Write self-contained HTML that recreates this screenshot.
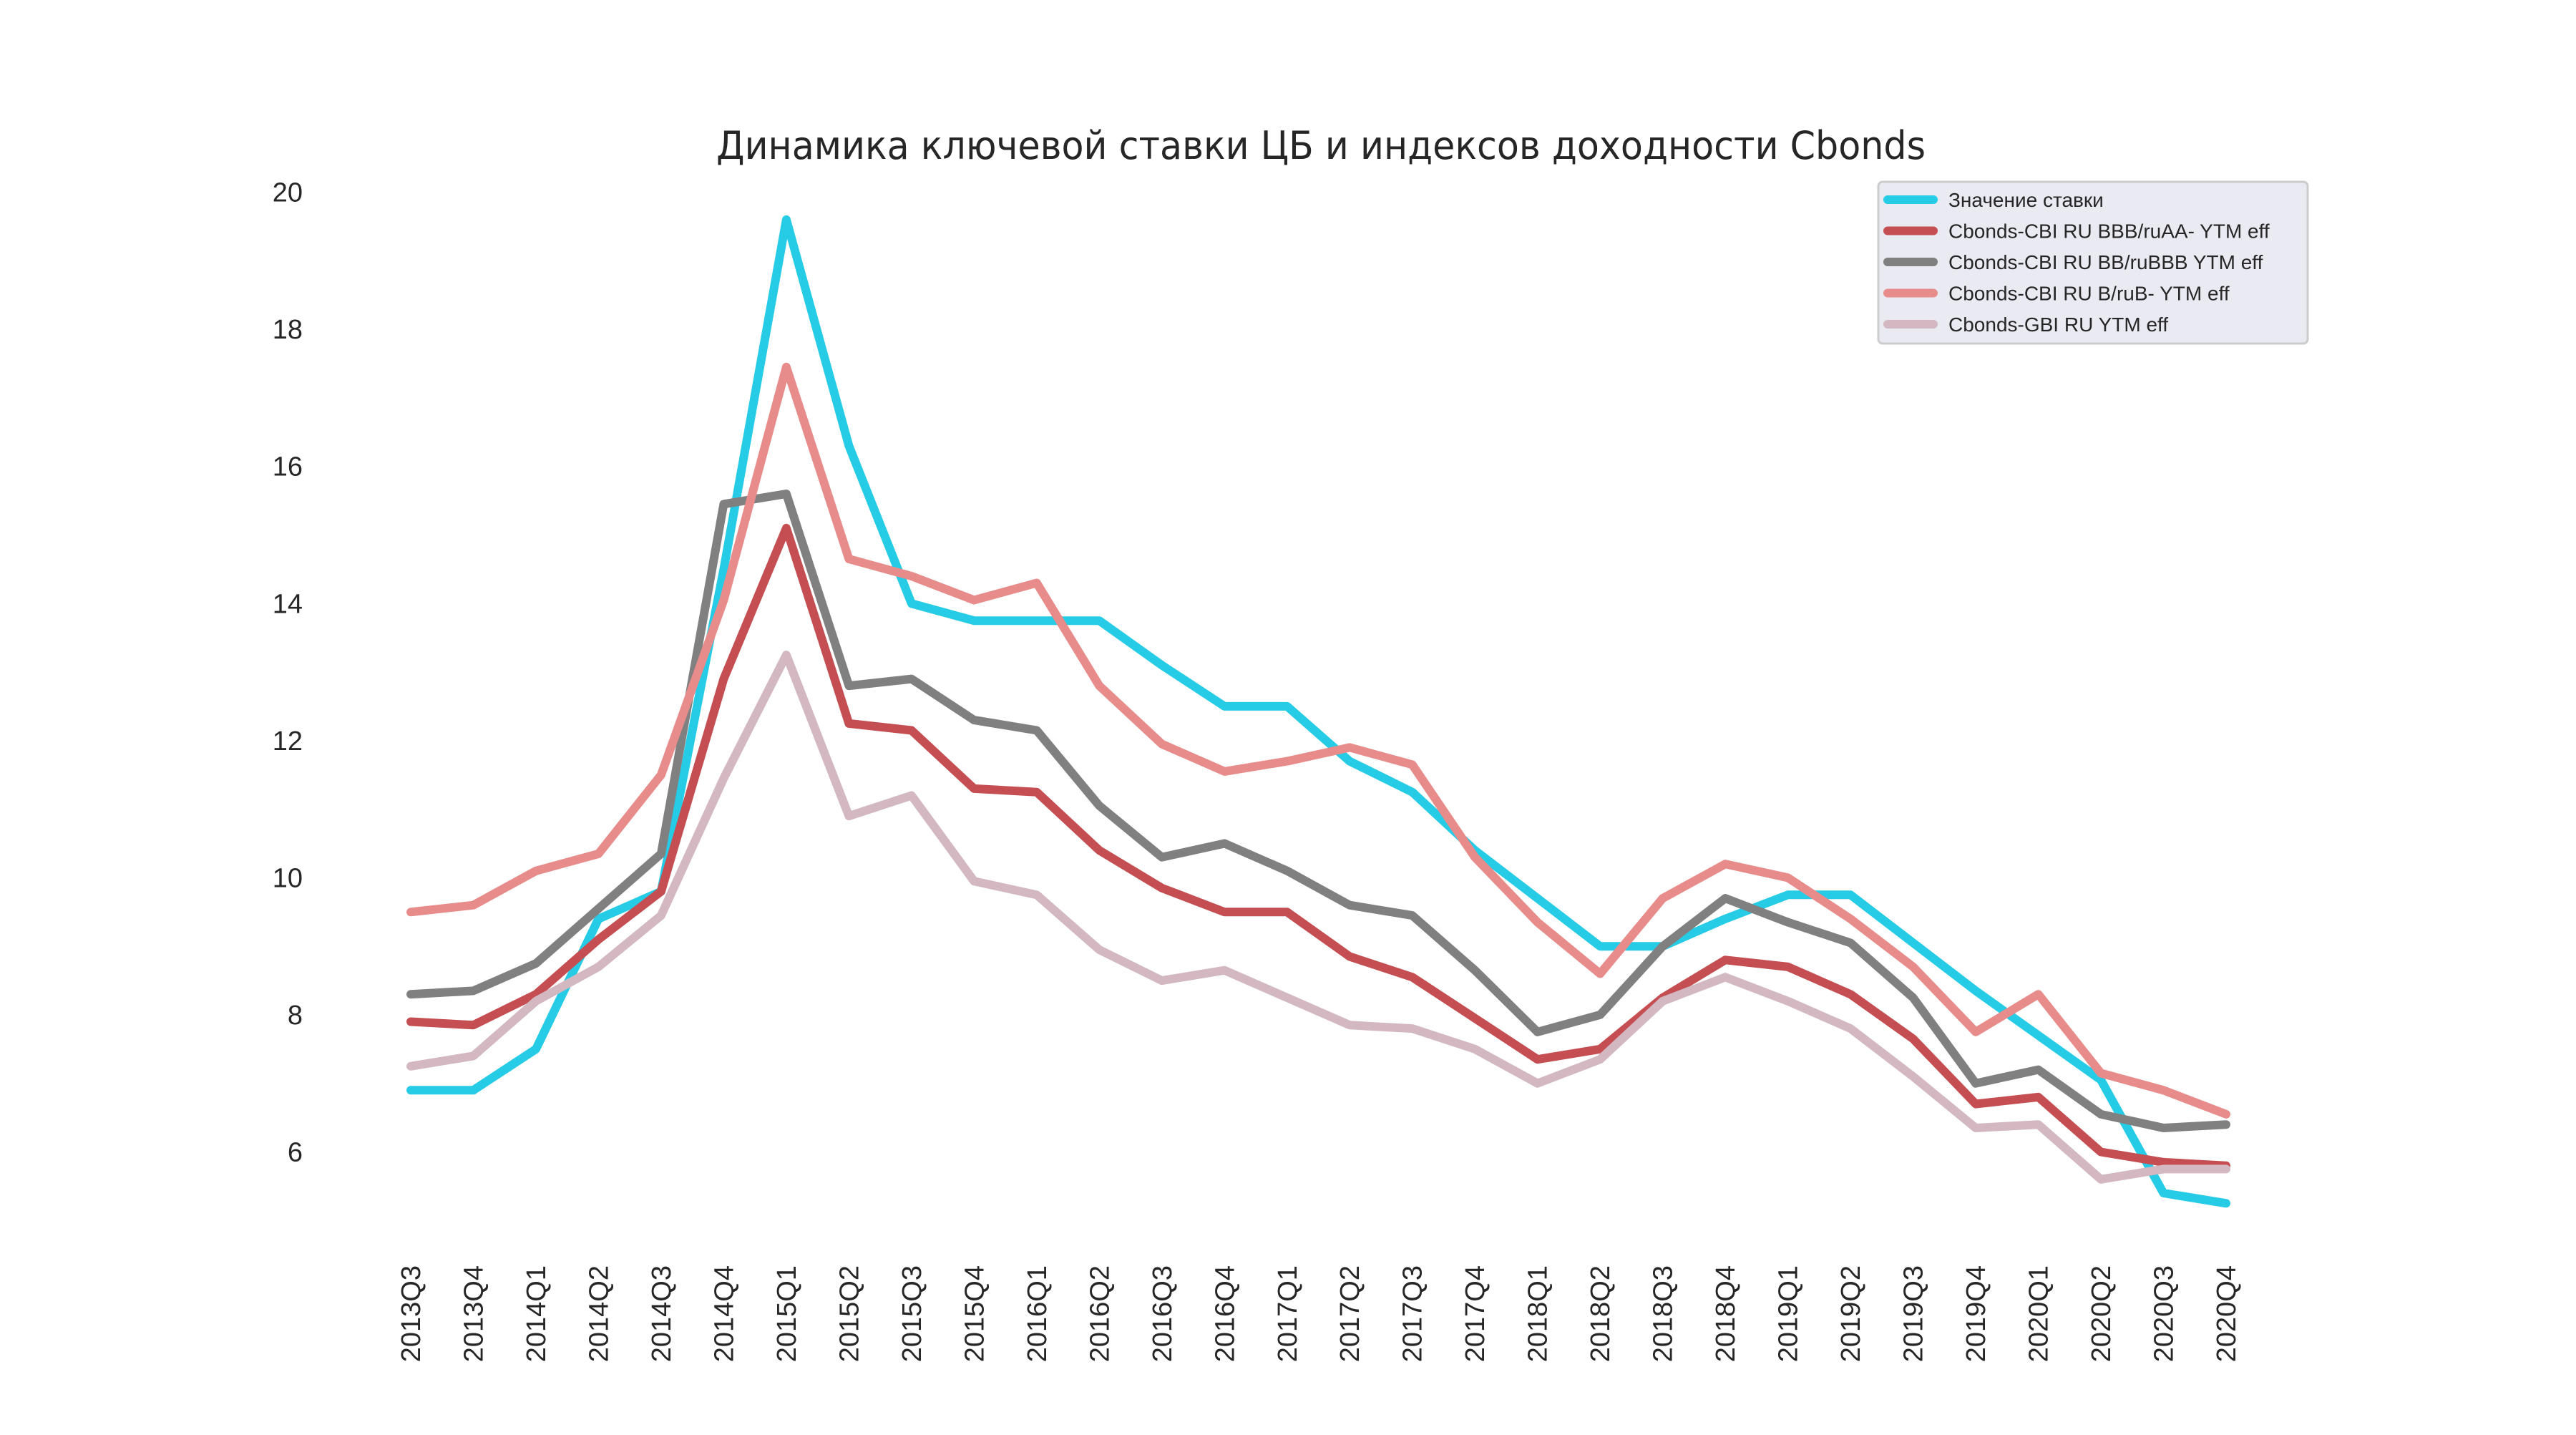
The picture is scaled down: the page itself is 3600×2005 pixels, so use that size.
<!DOCTYPE html>
<html><head><meta charset="utf-8"><style>
html,body{margin:0;padding:0;background:#fff;}
svg text{font-family:"Liberation Sans","DejaVu Sans",sans-serif;fill:#262626;}
</style></head><body>
<svg id="chart" width="3600" height="2000" xmlns="http://www.w3.org/2000/svg">
<text x="1001" y="222" textLength="1690" lengthAdjust="spacingAndGlyphs" style="font-family:'Comic Sans MS','DejaVu Sans',sans-serif;font-size:54px;fill:#262626">Динамика ключевой ставки ЦБ и индексов доходности Cbonds</text>
<g id="yticks"></g>
<g id="xticks"></g>
<g id="lines"></g>
<g>
<rect x="2625" y="254" width="600" height="226" rx="6" fill="#eaeaf2" stroke="#cccccc" stroke-width="3"/>
<g id="legend-entries"></g>
</g>
</svg>
<script>
const categories=["2013Q3","2013Q4","2014Q1","2014Q2","2014Q3","2014Q4","2015Q1","2015Q2","2015Q3","2015Q4","2016Q1","2016Q2","2016Q3","2016Q4","2017Q1","2017Q2","2017Q3","2017Q4","2018Q1","2018Q2","2018Q3","2018Q4","2019Q1","2019Q2","2019Q3","2019Q4","2020Q1","2020Q2","2020Q3","2020Q4"];
const keyRate=[6.9,6.9,7.5,9.4,9.8,14.5,19.6,16.3,14.0,13.75,13.75,13.75,13.1,12.5,12.5,11.7,11.25,10.4,9.7,9.0,9.0,9.4,9.75,9.75,9.05,8.35,7.7,7.05,5.4,5.25];
const bbbYield=[7.9,7.85,8.3,9.1,9.8,12.9,15.1,12.25,12.15,11.3,11.25,10.4,9.85,9.5,9.5,8.85,8.55,7.95,7.35,7.5,8.25,8.8,8.7,8.3,7.65,6.7,6.8,6.0,5.85,5.8];
const bbYield=[8.3,8.35,8.75,9.55,10.35,15.45,15.6,12.8,12.9,12.3,12.15,11.05,10.3,10.5,10.1,9.6,9.45,8.65,7.75,8.0,9.0,9.7,9.35,9.05,8.25,7.0,7.2,6.55,6.35,6.4];
const bYield=[9.5,9.6,10.1,10.35,11.5,14.05,17.45,14.65,14.4,14.05,14.3,12.8,11.95,11.55,11.7,11.9,11.65,10.3,9.35,8.6,9.7,10.2,10.0,9.4,8.7,7.75,8.3,7.15,6.9,6.55];
const gbiYield=[7.25,7.4,8.2,8.7,9.45,11.45,13.25,10.9,11.2,9.95,9.75,8.95,8.5,8.65,8.25,7.85,7.8,7.5,7.0,7.35,8.2,8.55,8.2,7.8,7.1,6.35,6.4,5.6,5.75,5.75];
const yTickValues=[6,8,10,12,14,16,18,20];
const seriesNames=["Значение ставки","Cbonds-CBI RU BBB/ruAA- YTM eff","Cbonds-CBI RU BB/ruBBB YTM eff","Cbonds-CBI RU B/ruB- YTM eff","Cbonds-GBI RU YTM eff"];

const NS="http://www.w3.org/2000/svg";
const colors=["#26cbe6","#c44e52","#808080","#e78c8a","#d3b8c2"];
const seriesData=[keyRate,bbbYield,bbYield,bYield,gbiYield];
const lineKeys=["key-rate-line","bbb-line","bb-line","b-line","gbi-line"];
function xs(i){return 574+i*(3111-574)/(categories.length-1);}
function ys(v){return 268.6+(20-v)*(1609.5-268.6)/14;}
function mk(tag,attrs,parent){const e=document.createElementNS(NS,tag);for(const k in attrs)e.setAttribute(k,attrs[k]);parent.appendChild(e);return e;}

const yt=document.getElementById('yticks');
yTickValues.forEach(v=>{
  const t=mk('text',{x:423,y:ys(v)+13,'text-anchor':'end','font-size':'38'},yt);
  
  
  t.textContent=v;
});
const xt=document.getElementById('xticks');
categories.forEach((c,i)=>{
  const x=xs(i);
  const t=mk('text',{x:0,y:0,'text-anchor':'end','font-size':'38',transform:`translate(${x+13},1768) rotate(-90)`},xt);
  
  
  t.textContent=c;
});
const lg=document.getElementById('lines');
seriesData.forEach((d,s)=>{
  const pts=d.map((v,i)=>xs(i).toFixed(1)+','+ys(v).toFixed(1)).join(' ');
  const p=mk('polyline',{points:pts,fill:'none',stroke:colors[s],'stroke-width':12,'stroke-linejoin':'round','stroke-linecap':'round'},lg);
  
  
});
const le=document.getElementById('legend-entries');
seriesNames.forEach((n,s)=>{
  const y=279+s*43.5;
  const l=mk('line',{x1:2638,x2:2702,y1:y,y2:y,stroke:colors[s],'stroke-width':12,'stroke-linecap':'round'},le);
  
  
  const t=mk('text',{x:2723,y:y+10,'font-size':'28'},le);
  
  
  t.textContent=n;
});
</script>
</body></html>
